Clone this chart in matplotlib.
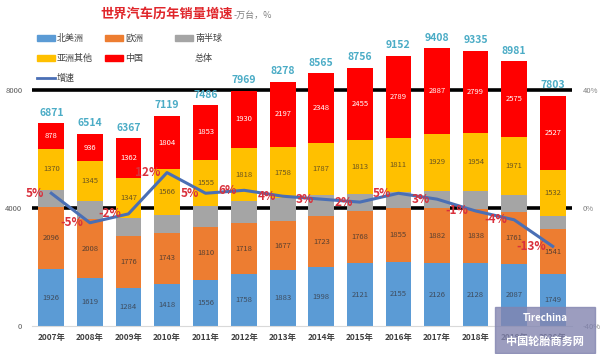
import numpy as np
import matplotlib
matplotlib.use('Agg')
from matplotlib import pyplot as plt
from matplotlib.patches import Rectangle
from matplotlib.lines import Line2D

plt.rcParams['font.family'] = ['Noto Sans CJK SC', 'DejaVu Sans']

# data (万台, %)
years = ['2007年', '2008年', '2009年', '2010年', '2011年', '2012年', '2013年',
         '2014年', '2015年', '2016年', '2017年', '2018年', '2019年', '2020年']
north_america = [1926, 1619, 1284, 1418, 1556, 1758, 1883, 1998, 2121, 2155, 2126, 2128, 2087, 1749]
europe = [2096, 2008, 1776, 1743, 1810, 1718, 1677, 1723, 1768, 1855, 1882, 1838, 1761, 1541]
southern = [601, 606, 598, 588, 712, 745, 763, 709, 599, 542, 584, 616, 587, 454]
asia_other = [1370, 1345, 1347, 1566, 1555, 1818, 1758, 1787, 1813, 1811, 1929, 1954, 1971, 1532]
china = [878, 936, 1362, 1804, 1853, 1930, 2197, 2348, 2455, 2789, 2887, 2799, 2575, 2527]
total = [6871, 6514, 6367, 7119, 7486, 7969, 8278, 8565, 8756, 9152, 9408, 9335, 8981, 7803]
growth = [5, -5, -2, 12, 5, 6, 4, 3, 2, 5, 3, -1, -4, -13]

series = [
    ('北美洲', north_america, '#5B9BD5', '#3E4C5E'),
    ('欧洲', europe, '#ED7D31', '#5a4030'),
    ('南半球', southern, '#A5A5A5', None),
    ('亚洲其他', asia_other, '#FFC000', '#6b5520'),
    ('中国', china, '#FF0000', 'white'),
]
line_color = '#4A6FB5'
total_color = '#4BACC6'
growth_color = '#D9303C'

fig = plt.figure(figsize=(6, 3.54), dpi=100)
ax = fig.add_axes([32 / 600, 28 / 354, 540 / 600, 295 / 354])

x = np.arange(len(years))
bottom = np.zeros(len(years))
for name, vals, color, tcolor in series:
    vals = np.array(vals)
    ax.bar(x, vals, 0.67, bottom=bottom, color=color, zorder=2)
    if tcolor:
        for xi, b, v in zip(x, bottom, vals):
            ax.text(xi, b + v / 2, str(v), ha='center', va='center',
                    fontsize=5.5, color=tcolor, zorder=3)
    bottom += vals

for xi, t in zip(x, total):
    ax.annotate(str(t), (xi, t), xytext=(0, 4), textcoords='offset points',
                ha='center', va='bottom', fontsize=7.5, fontweight='bold',
                color=total_color)

# heavy reference lines behind bars
for yv in [4000, 8000]:
    ax.axhline(yv, color='black', lw=2.6, zorder=1)

ax.set_xlim(-0.5, len(years) - 0.5)
ax.set_ylim(0, 10000)
ax.set_yticks([0, 4000, 8000])
ax.set_xticks(x)
ax.set_xticklabels(years, fontsize=6, fontweight='bold', color='#404040')
ax.tick_params(axis='y', length=0, labelsize=5.5, labelcolor='#595959', pad=7)
ax.tick_params(axis='x', length=0, pad=5)
for s in ['top', 'right', 'left']:
    ax.spines[s].set_visible(False)
ax.spines['bottom'].set_color('#D9D9D9')

ax2 = ax.twinx()
ax2.set_ylim(-40, 60)
ax2.set_yticks([-40, 0, 40])
ax2.set_yticklabels(['-40%', '0%', '40%'])
ax2.tick_params(axis='y', length=0, labelsize=5.5, labelcolor='#808080', pad=8)
for s in ax2.spines.values():
    s.set_visible(False)
ax2.plot(x, growth, color=line_color, lw=2.2, zorder=4)
for xi, g in zip(x, growth):
    ax2.annotate('%d%%' % g, (xi, g), xytext=(-5, 0), textcoords='offset points',
                 ha='right', va='center', fontsize=8.5, fontweight='bold',
                 color=growth_color, zorder=5)

# title
fig.text(100 / 600, 1 - 14 / 354, '世界汽车历年销量增速', fontsize=9.5, fontweight='bold',
         color='#E0262B', ha='left', va='center')
fig.text(234 / 600, 1 - 15 / 354, '-万台，%', fontsize=6.5, color='#7F7F7F',
         ha='left', va='center')

# legend laid out like the original (3 columns)
legend_items = [(n, c) for n, v, c, t in series]
cols = [37, 105, 175]
rows = [38, 58, 78]
grid = [(0, 0), (0, 1), (0, 2), (1, 0), (1, 1)]
for (name, color), (r, c) in zip(legend_items, grid):
    px, py = cols[c], rows[r]
    fig.patches.append(Rectangle((px / 600, 1 - (py + 2.5) / 354), 18 / 600, 5 / 354,
                                 transform=fig.transFigure, color=color))
    fig.text((px + 20) / 600, 1 - py / 354, name, fontsize=6.5, color='#404040',
             ha='left', va='center')
fig.text(195 / 600, 1 - rows[1] / 354, '总体', fontsize=6.5, color='#404040',
         ha='left', va='center')
fig.lines.append(Line2D([cols[0] / 600, (cols[0] + 18) / 600], [1 - rows[2] / 354] * 2,
                        transform=fig.transFigure, color=line_color, lw=2))
fig.text((cols[0] + 20) / 600, 1 - rows[2] / 354, '增速', fontsize=6.5, color='#404040',
         ha='left', va='center')

# watermark box (as in the source image)
fig.patches.append(Rectangle((495 / 600, 1 - 353 / 354), 100 / 600, 46 / 354,
                             transform=fig.transFigure, color='#8385B0', alpha=0.8, zorder=10))
fig.text(545 / 600, 1 - 318 / 354, 'Tirechina', fontsize=7, fontstyle='italic',
         fontweight='bold', color='white', ha='center', va='center', zorder=11)
fig.text(545 / 600, 1 - 341 / 354, '中国轮胎商务网', fontsize=8, fontweight='bold',
         color='white', ha='center', va='center', zorder=11)

fig.savefig('out.png', dpi=100)
